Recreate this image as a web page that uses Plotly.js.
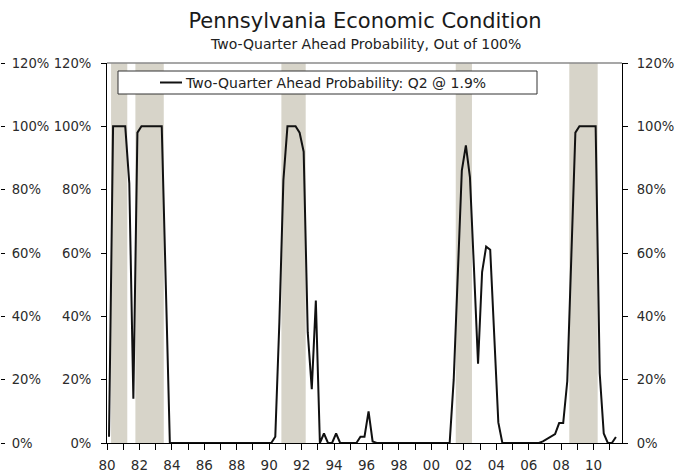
<!DOCTYPE html>
<html>
<head>
<meta charset="utf-8">
<script src="https://cdn.plot.ly/plotly-3.0.1.min.js"></script>
<style>html,body{margin:0;padding:0;background:#fff;}#chart{width:676px;height:473px;}</style>
</head>
<body>
<div id="chart"></div>
<script>
// Quarterly series, first quarter = 1980 Q1, last = 2011 Q2
const firstYear = 1980;
const probability = [
  2, 100, 100, 100,        // 1980
  100, 82, 14, 98,         // 1981
  100, 100, 100, 100,      // 1982
  100, 100, 50, 0,         // 1983
  0, 0, 0, 0,              // 1984
  0, 0, 0, 0,              // 1985
  0, 0, 0, 0,              // 1986
  0, 0, 0, 0,              // 1987
  0, 0, 0, 0,              // 1988
  0, 0, 0, 0,              // 1989
  0, 2, 38, 83,            // 1990
  100, 100, 100, 98,       // 1991
  92, 35, 17, 45,          // 1992
  0, 3, 0, 0,              // 1993
  3, 0, 0, 0,              // 1994
  0, 0, 2, 2,              // 1995
  10, 0.5, 0, 0,           // 1996
  0, 0, 0, 0,              // 1997
  0, 0, 0, 0,              // 1998
  0, 0, 0, 0,              // 1999
  0, 0, 0, 0,              // 2000
  0, 20, 55, 86,           // 2001
  94, 84, 55, 25,          // 2002
  54, 62, 61, 33,          // 2003
  6.5, 0, 0, 0,            // 2004
  0, 0, 0, 0,              // 2005
  0, 0, 0, 0.5,            // 2006
  1.2, 2, 2.8, 6.3,        // 2007
  6.3, 19.5, 60, 98,       // 2008
  100, 100, 100, 100,      // 2009
  100, 22, 3, 0,           // 2010
  0, 1.9                   // 2011
];

// Shaded recession periods (decimal years)
const recessionStart = [1980.25, 1981.75, 1990.75, 2001.5, 2008.5];
const recessionEnd   = [1981.25, 1983.5, 1992.25, 2002.5, 2010.25];

const tickYears = [1980,1981,1982,1983,1984,1985,1986,1987,1988,1989,1990,1991,1992,1993,1994,1995,
                   1996,1997,1998,1999,2000,2001,2002,2003,2004,2005,2006,2007,2008,2009,2010,2011];
const tickText  = ['80','','82','','84','','86','','88','','90','','92','','94','',
                   '96','','98','','00','','02','','04','','06','','08','','10',''];
const yTicks    = [0, 20, 40, 60, 80, 100, 120];
const yTickText = ['0%', '20%', '40%', '60%', '80%', '100%', '120%'];

const seriesName = 'Two-Quarter Ahead Probability: Q2 @ 1.9%';
const titleText = 'Pennsylvania Economic Condition';
const subtitleText = 'Two-Quarter Ahead Probability, Out of 100%';

// quarter midpoints on a category-like time axis
const quarterX = probability.map((_, i) => firstYear + (i + 0.5) / 4);

const W = 676, H = 473;
const plotL = 107, plotR = 622, plotT = 63, plotB = 443;
const px = v => v / W;
const py = v => (plotB - v) / (plotB - plotT);

const FONT = 'DejaVu Sans, Verdana, sans-serif';
const TXT = '#2b2b2b';

const shapes = recessionStart.map((s, i) => ({
  type: 'rect', xref: 'x', yref: 'y domain', x0: s, x1: recessionEnd[i], y0: 0, y1: 1,
  fillcolor: '#d7d4c9', line: {width: 0}, layer: 'below'
}));
// top border of plot
shapes.push({type: 'line', xref: 'x domain', yref: 'y domain', x0: 0, x1: 1, y0: 1, y1: 1,
  line: {color: '#8a8a8a', width: 1.5}, layer: 'above'});
// legend box
shapes.push({type: 'rect', xref: 'paper', yref: 'paper', x0: px(118), x1: px(537), y0: py(71), y1: py(94),
  fillcolor: '#ffffff', line: {color: '#333', width: 1}, layer: 'above'});
// legend sample line
shapes.push({type: 'line', xref: 'paper', yref: 'paper', x0: px(160), x1: px(182), y0: py(82.5), y1: py(82.5),
  line: {color: '#111', width: 2}, layer: 'above'});

const trace = {
  type: 'scatter', mode: 'lines', name: seriesName,
  x: quarterX, y: probability,
  line: {color: '#111', width: 2}, showlegend: false, hoverinfo: 'x+y'
};
// invisible companions so the secondary percentage axes are drawn
const ghost2 = {type: 'scatter', mode: 'lines', x: quarterX, y: probability, yaxis: 'y2',
  line: {color: 'rgba(0,0,0,0)', width: 0}, showlegend: false, hoverinfo: 'skip'};
const ghost3 = {type: 'scatter', mode: 'lines', x: quarterX, y: probability, yaxis: 'y3',
  line: {color: 'rgba(0,0,0,0)', width: 0}, showlegend: false, hoverinfo: 'skip'};

const yCommon = {
  range: [0, 120], tickmode: 'array', tickvals: yTicks, ticktext: yTickText,
  showgrid: false, zeroline: false,
  tickfont: {family: FONT, size: 13.2, color: TXT}, fixedrange: true
};

const layout = {
  width: W, height: H,
  margin: {l: 0, r: 0, t: plotT, b: H - plotB},
  paper_bgcolor: '#fff', plot_bgcolor: 'rgba(0,0,0,0)',
  font: {family: FONT, color: TXT},
  showlegend: false,
  title: {text: titleText, font: {family: FONT, size: 21, color: '#1a1a1a'},
          x: px(365), xanchor: 'center', xref: 'paper', y: 1 - 21 / H, yanchor: 'middle'},
  xaxis: {
    domain: [px(plotL), px(plotR)], range: [1980, 2011.75],
    tickmode: 'array', tickvals: tickYears, ticktext: tickText, tickangle: 0,
    ticks: 'outside', ticklen: 6, tickcolor: '#000', tickwidth: 1, ticklabelstandoff: 4,
    showline: true, linecolor: '#000', linewidth: 1, showgrid: false, zeroline: false,
    tickfont: {family: FONT, size: 13.5, color: TXT}, fixedrange: true
  },
  yaxis: Object.assign({}, yCommon, {
    anchor: 'x', side: 'left', ticks: 'outside', ticklen: 5, tickcolor: '#000',
    ticklabelstandoff: 7, showline: true, linecolor: '#000', linewidth: 1
  }),
  yaxis2: Object.assign({}, yCommon, {
    overlaying: 'y', anchor: 'x', side: 'right', ticks: 'outside', ticklen: 5, tickcolor: '#000',
    ticklabelstandoff: 6, showline: true, linecolor: '#000', linewidth: 1
  }),
  yaxis3: Object.assign({}, yCommon, {
    overlaying: 'y', anchor: 'free', position: 0, side: 'right', ticks: 'outside', ticklen: 4,
    tickcolor: '#000', ticklabelstandoff: 4, showline: false
  }),
  shapes: shapes,
  annotations: [
    {text: subtitleText, xref: 'paper', yref: 'paper', x: px(365.5), y: py(44),
     xanchor: 'center', yanchor: 'middle', showarrow: false,
     font: {family: FONT, size: 14, color: '#222'}},
    {text: seriesName, xref: 'paper', yref: 'paper', x: px(183), y: py(82.5),
     xanchor: 'left', yanchor: 'middle', showarrow: false,
     font: {family: FONT, size: 14, color: '#222'}}
  ]
};

Plotly.newPlot('chart', [trace, ghost2, ghost3], layout, {displayModeBar: false, staticPlot: true});
</script>
</body>
</html>
